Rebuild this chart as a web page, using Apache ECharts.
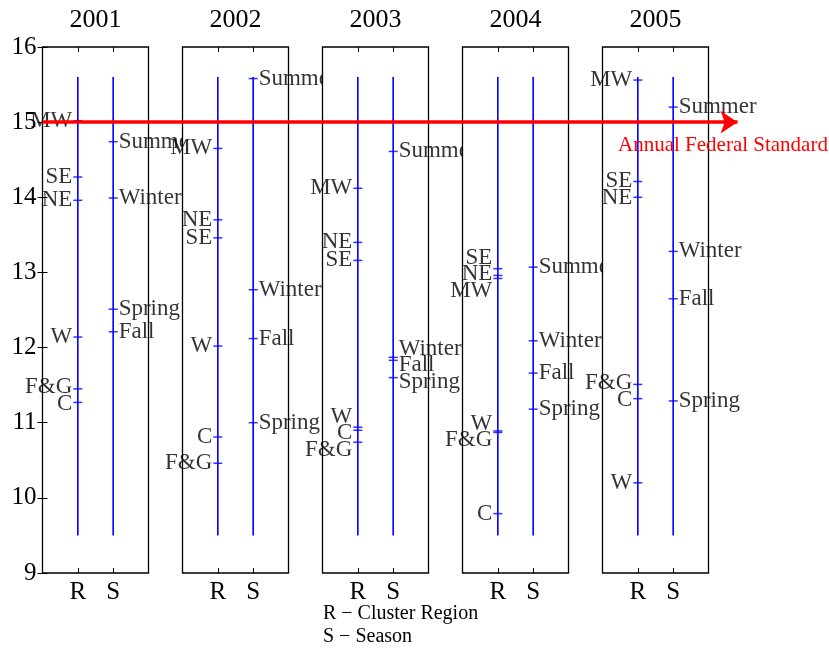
<!DOCTYPE html>
<html>
<head>
<meta charset="utf-8">
<script src="https://cdn.jsdelivr.net/npm/echarts@6/dist/echarts.min.js"></script>
<style>
  html, body { margin: 0; padding: 0; background: #fff; }
  #chart { width: 829px; height: 649px; }
</style>
</head>
<body>
<div id="chart"></div>
<script>
// PM2.5 annual means (µg/m³) by cluster region (R) and by season (S), one panel per year
const years = ['2001', '2002', '2003', '2004', '2005'];
const columnLabels = ['R', 'S'];

const regionNames = ['MW', 'SE', 'NE', 'W', 'F&G', 'C'];
const regionValues = [
  [15.02, 14.27, 13.96, 12.14, 11.45, 11.27], // 2001
  [14.65, 13.46, 13.70, 12.02, 10.46, 10.81], // 2002
  [14.12, 13.16, 13.40, 10.94, 10.74, 10.90], // 2003
  [12.92, 13.05, 12.96, 10.89, 10.87, 9.79],  // 2004
  [15.56, 14.21, 14.00, 10.20, 11.51, 11.32]  // 2005
];

const seasonNames = ['Summer', 'Winter', 'Spring', 'Fall'];
const seasonValues = [
  [14.74, 13.99, 12.51, 12.21], // 2001
  [15.58, 12.77, 11.00, 12.12], // 2002
  [14.61, 11.87, 11.60, 11.83], // 2003
  [13.07, 12.09, 11.18, 11.66], // 2004
  [15.20, 13.28, 11.29, 12.65]  // 2005
];

const stemRange = [9.5, 15.6];     // extent of each column's guide line
const federalStandard = 15;        // annual NAAQS level
const yMin = 9, yMax = 16, yStep = 1;

// ---- layout / style ----
const FONT = '"Liberation Serif", "Times New Roman", serif';
const PANEL_LEFT0 = 42.5, PANEL_STEP = 140, PANEL_W = 106;
const PANEL_TOP = 47, PANEL_H = 526;
const LABEL_GAP = 16.5;
const BLUE = '#0000ff';

// Spread labels of one column vertically so that neighbouring texts keep LABEL_GAP px apart.
function spreadOffsets(values) {
  const pxPerUnit = PANEL_H / (yMax - yMin);
  const items = values.map((v, i) => ({ i, y: (yMax - v) * pxPerUnit }))
                      .sort((a, b) => a.y - b.y);
  const place = g => { g.start = g.sum / g.members.length - (g.members.length - 1) * LABEL_GAP / 2; };
  let groups = items.map(it => ({ members: [it], sum: it.y }));
  groups.forEach(place);
  let merged = true;
  while (merged) {
    merged = false;
    for (let k = 0; k < groups.length - 1; k++) {
      const a = groups[k], b = groups[k + 1];
      const aEnd = a.start + (a.members.length - 1) * LABEL_GAP;
      if (b.start - aEnd < LABEL_GAP) {
        const g = { members: a.members.concat(b.members), sum: a.sum + b.sum };
        place(g);
        groups.splice(k, 2, g);
        merged = true;
        break;
      }
    }
  }
  const offsets = new Array(values.length).fill(0);
  groups.forEach(g => g.members.forEach((m, j) => { offsets[m.i] = g.start + j * LABEL_GAP - m.y; }));
  return offsets;
}

const grid = [], xAxis = [], yAxis = [], series = [];
const tickStyle = { inside: true, length: 5, lineStyle: { color: '#000', width: 1 } };

years.forEach((year, p) => {
  const z = 10 * p;
  grid.push({
    left: PANEL_LEFT0 + p * PANEL_STEP, top: PANEL_TOP, width: PANEL_W, height: PANEL_H,
    show: true, backgroundColor: '#fff', borderColor: '#000', borderWidth: 1.3, z: z
  });

  const xBottom = xAxis.length;
  xAxis.push({
    gridIndex: p, type: 'value', min: 0, max: columnLabels.length + 1, interval: 1,
    position: 'bottom', z: z + 1,
    axisLine: { show: false }, splitLine: { show: false }, axisTick: tickStyle,
    axisLabel: {
      formatter: v => columnLabels[v - 1] || '',
      fontFamily: FONT, fontSize: 25, color: '#000', margin: 7
    }
  });
  xAxis.push({
    gridIndex: p, type: 'value', min: 0, max: columnLabels.length + 1, interval: 1,
    position: 'top', z: z + 1,
    name: year, nameLocation: 'middle', nameGap: 14,
    nameTextStyle: { fontFamily: FONT, fontSize: 26, color: '#000' },
    axisLine: { show: false }, splitLine: { show: false }, axisTick: tickStyle,
    axisLabel: { show: false }
  });

  const yLeft = yAxis.length;
  yAxis.push({
    gridIndex: p, type: 'value', min: yMin, max: yMax, interval: yStep,
    position: 'left', z: z + 1,
    axisLine: { show: false }, splitLine: { show: false },
    axisTick: Object.assign({}, tickStyle, { show: p === 0 }),
    axisLabel: { show: p === 0, fontFamily: FONT, fontSize: 25, color: '#000', margin: 6 }
  });
  if (p === 0) {
    yAxis.push({
      gridIndex: p, type: 'value', min: yMin, max: yMax, interval: yStep,
      position: 'right', z: z + 1,
      axisLine: { show: false }, splitLine: { show: false },
      axisTick: tickStyle, axisLabel: { show: false }
    });
  }

  // guide lines for the R and S columns
  columnLabels.forEach((_, c) => {
    series.push({
      type: 'line', xAxisIndex: xBottom, yAxisIndex: yLeft, z: z + 2,
      silent: true, animation: false, symbol: 'none',
      lineStyle: { color: BLUE, width: 1.6 },
      data: [[c + 1, stemRange[0]], [c + 1, stemRange[1]]]
    });
  });

  const columns = [
    { names: regionNames, values: regionValues[p], x: 1, pos: 'left' },
    { names: seasonNames, values: seasonValues[p], x: 2, pos: 'right' }
  ];
  columns.forEach(col => {
    const off = spreadOffsets(col.values);
    series.push({
      type: 'scatter', xAxisIndex: xBottom, yAxisIndex: yLeft, z: z + 3,
      silent: true, animation: false,
      symbol: 'rect', symbolSize: [9, 1.5],
      itemStyle: { color: BLUE },
      label: {
        show: true, position: col.pos, distance: 1, formatter: '{b}',
        fontFamily: FONT, fontSize: 23, color: '#000'
      },
      data: col.names.map((n, i) => ({
        name: n, value: [col.x, col.values[i]],
        label: { offset: [0, off[i]] }
      }))
    });
  });
});

// overlay carrying the federal-standard arrow across all panels
const ov = years.length;
grid.push({ left: PANEL_LEFT0, top: PANEL_TOP, width: 695, height: PANEL_H, show: false, z: 90 });
xAxis.push({ gridIndex: ov, type: 'value', min: 0, max: 1, show: false });
yAxis.push({ gridIndex: ov, type: 'value', min: yMin, max: yMax, show: false });
series.push({
  type: 'line', xAxisIndex: xAxis.length - 1, yAxisIndex: yAxis.length - 1, z: 95,
  data: [], animation: false, silent: true,
  markLine: {
    silent: true, animation: false, z: 100,
    symbol: ['none', 'arrow'], symbolSize: 17,
    lineStyle: { color: '#ff0000', width: 3.5, type: 'solid' },
    label: { show: false },
    data: [[{ coord: [0, federalStandard] }, { coord: [1, federalStandard] }]]
  }
});

const chart = echarts.init(document.getElementById('chart'), null, { renderer: 'canvas' });
chart.setOption({
  animation: false,
  backgroundColor: '#fff',
  grid, xAxis, yAxis, series,
  graphic: [
    { type: 'text', left: 618, top: 135, z: 100,
      style: { text: 'Annual Federal Standard', fill: '#ff0000', font: '21px ' + FONT } },
    { type: 'text', left: 323, top: 604, z: 100,
      style: { text: 'R \u2212 Cluster Region', fill: '#000', font: '20px ' + FONT } },
    { type: 'text', left: 323, top: 627, z: 100,
      style: { text: 'S \u2212 Season', fill: '#000', font: '20px ' + FONT } }
  ]
});
</script>
</body>
</html>
